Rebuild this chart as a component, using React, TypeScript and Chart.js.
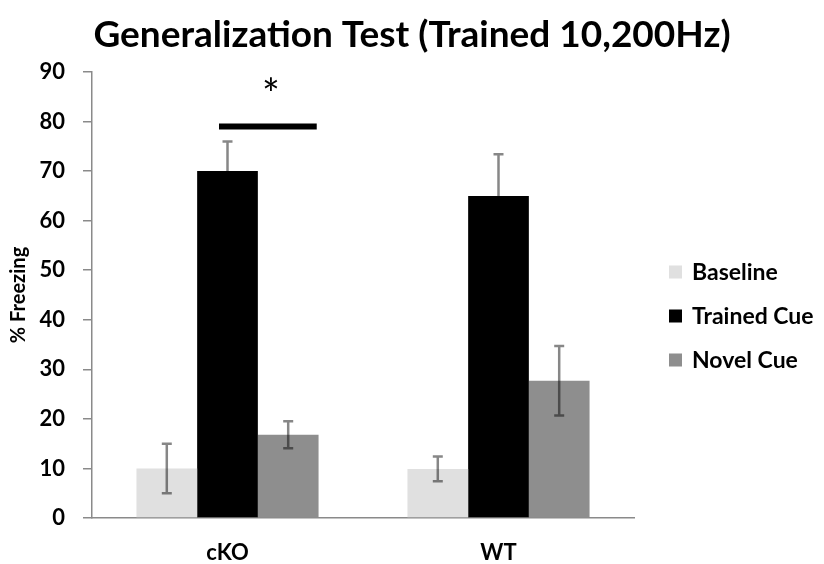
import React, { useEffect, useRef } from 'react';
import { Chart, registerables } from 'chart.js';

Chart.register(...registerables);

const categories = ['cKO', 'WT'];
const seriesNames = ['Baseline', 'Trained Cue', 'Novel Cue'];
const seriesColors = ['#e0e0e0', '#000000', '#8e8e8e'];
const baseline = [10, 9.9];
const trainedCue = [70, 65];
const novelCue = [16.8, 27.7];
const baselineErr = [5, 2.5];
const trainedErr = [6, 8.4];
const novelErr = [2.7, 7];
const yMin = 0;
const yMax = 90;
const yStep = 10;
const titleText = 'Generalization Test (Trained 10,200Hz)';
const yTitle = '% Freezing';
const sigCategory = 0;
const sigFrom = 1;
const sigTo = 2;
const sigLevel = 79;
const sigLabel = '*';
const sigLabelLevel = 82.6;

const FONT = 'Lato, "Open Sans", sans-serif';

export default function App() {
  const ref = useRef<HTMLCanvasElement>(null);

  useEffect(() => {
    document.body.style.margin = '0';
    const canvas = ref.current;
    if (!canvas) return;

    const values = [baseline, trainedCue, novelCue];
    const errors = [baselineErr, trainedErr, novelErr];

    const errorBars = {
      id: 'errorBars',
      afterDatasetsDraw(chart: any) {
        const ctx = chart.ctx;
        const y = chart.scales.y;
        ctx.save();
        ctx.strokeStyle = 'rgba(0,0,0,0.47)';
        ctx.lineWidth = 2.5;
        values.forEach((vals, di) => {
          const meta = chart.getDatasetMeta(di);
          meta.data.forEach((el: any, i: number) => {
            const v = vals[i];
            const e = errors[di][i];
            const yTop = y.getPixelForValue(v + e);
            const yBot = y.getPixelForValue(v - e);
            const x = el.x;
            ctx.beginPath();
            ctx.moveTo(x, yTop);
            ctx.lineTo(x, yBot);
            ctx.moveTo(x - 5, yTop);
            ctx.lineTo(x + 5, yTop);
            ctx.moveTo(x - 5, yBot);
            ctx.lineTo(x + 5, yBot);
            ctx.stroke();
          });
        });
        ctx.restore();
      },
    };

    const significance = {
      id: 'significance',
      afterDraw(chart: any) {
        const ctx = chart.ctx;
        const y = chart.scales.y;
        const a = chart.getDatasetMeta(sigFrom).data[sigCategory] as any;
        const b = chart.getDatasetMeta(sigTo).data[sigCategory] as any;
        const x1 = a.x - a.width * 0.14;
        const x2 = b.x + b.width * 0.47;
        const yl = y.getPixelForValue(sigLevel);
        ctx.save();
        ctx.strokeStyle = '#000';
        ctx.lineWidth = 6;
        ctx.beginPath();
        ctx.moveTo(x1, yl);
        ctx.lineTo(x2, yl);
        ctx.stroke();
        ctx.fillStyle = '#000';
        ctx.font = `42px ${FONT}`;
        ctx.textAlign = 'center';
        ctx.textBaseline = 'alphabetic';
        ctx.fillText(sigLabel, (x1 + x2) / 2 + 3, y.getPixelForValue(sigLabelLevel));
        ctx.restore();
      },
    };

    const topTitle = {
      id: 'topTitle',
      afterDraw(chart: any) {
        const ctx = chart.ctx;
        ctx.save();
        ctx.fillStyle = '#000';
        ctx.font = `bold 37px ${FONT}`;
        ctx.textAlign = 'center';
        ctx.textBaseline = 'middle';
        ctx.fillText(titleText, chart.width / 2, 35);
        ctx.restore();
      },
    };

    const sideLegend = {
      id: 'sideLegend',
      afterDraw(chart: any) {
        const ctx = chart.ctx;
        const area = chart.chartArea;
        ctx.save();
        ctx.font = `bold 23px ${FONT}`;
        ctx.textBaseline = 'middle';
        ctx.textAlign = 'left';
        seriesNames.forEach((name, i) => {
          const cy = area.top + 200 + i * 44;
          const bx = area.right + 35;
          ctx.fillStyle = seriesColors[i];
          ctx.fillRect(bx, cy - 6.5, 13, 13);
          ctx.fillStyle = '#000';
          ctx.fillText(name, bx + 23, cy + 1);
        });
        ctx.restore();
      },
    };

    const chart = new Chart(canvas, {
      type: 'bar',
      data: {
        labels: categories,
        datasets: seriesNames.map((name, i) => ({
          label: name,
          data: values[i],
          backgroundColor: seriesColors[i],
          borderWidth: 0,
          barPercentage: 1,
          categoryPercentage: 0.672,
        })),
      },
      options: {
        responsive: false,
        animation: false,
        layout: { padding: { top: 72, left: 0, right: 190, bottom: 0 } },
        plugins: {
          legend: { display: false },
          tooltip: { enabled: false },
          title: { display: false },
        },
        scales: {
          x: {
            grid: { display: false, drawTicks: false },
            border: { display: true, color: '#8a8a8a', width: 1.5 },
            ticks: { color: '#000', font: { family: FONT, size: 22, weight: 'bold' }, padding: 22 },
            afterFit(scale: any) {
              scale.height = 46;
            },
          },
          y: {
            min: yMin,
            max: yMax,
            ticks: {
              stepSize: yStep,
              color: '#000',
              font: { family: FONT, size: 22, weight: 'bold' },
              padding: 18,
            },
            grid: {
              display: true,
              drawOnChartArea: false,
              drawTicks: true,
              tickLength: 9,
              color: '#8a8a8a',
              lineWidth: 1.5,
            },
            border: { display: true, color: '#8a8a8a', width: 1.5 },
            title: {
              display: true,
              text: yTitle,
              color: '#000',
              font: { family: FONT, size: 20, weight: 'bold' },
              padding: { top: 7, bottom: 0 },
            },
            afterFit(scale: any) {
              scale.width = 92;
            },
          },
        },
      },
      plugins: [errorBars, significance, topTitle, sideLegend],
    });

    return () => chart.destroy();
  }, []);

  return (
    <div style={{ width: 824, height: 564, background: '#fff' }}>
      <canvas ref={ref} width={824} height={564} style={{ display: 'block' }} />
    </div>
  );
}
